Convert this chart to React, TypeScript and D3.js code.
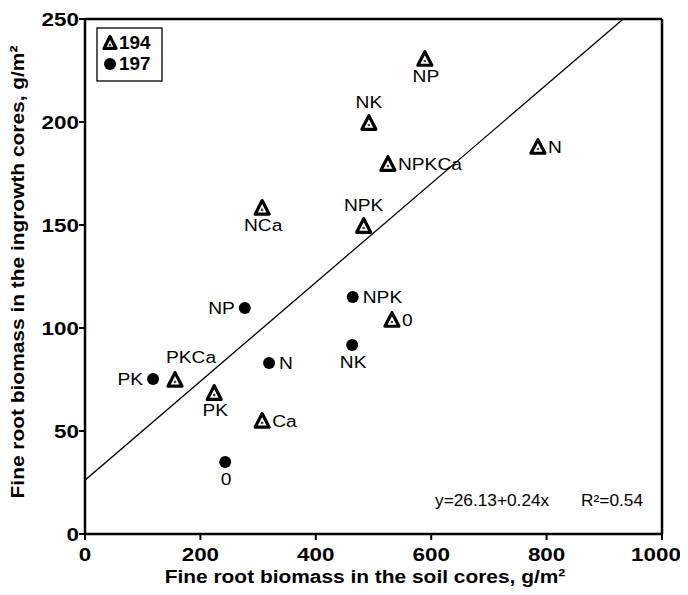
import React from "react";
import * as d3 from "d3";

// Treatment labels and fine root biomass (g/m²): soil cores (x) vs ingrowth cores (y)
const plot194Labels = ["NP", "NK", "NPKCa", "N", "NPK", "NCa", "0", "PKCa", "PK", "Ca"];
const plot194Soil = [589, 492, 525, 785, 483, 307, 532, 156, 224, 307];
const plot194Ingrowth = [230.6, 199.5, 179.6, 187.9, 149.5, 158.3, 103.9, 74.8, 68.4, 54.9];

const plot197Labels = ["NP", "PK", "N", "0", "NPK", "NK"];
const plot197Soil = [277, 118, 319, 243, 464, 463];
const plot197Ingrowth = [109.7, 75.2, 83, 35, 115, 91.7];

// where each treatment label sits relative to its marker
const plot194Place = ["below", "above", "right", "right", "above", "below", "right", "aboveLeft", "below", "right"];
const plot197Place = ["left", "left", "right", "below", "right", "below"];

const xTicks = [0, 200, 400, 600, 800, 1000];
const yTicks = [0, 50, 100, 150, 200, 250];

const intercept = 26.13;
const slope = 0.24;
const r2 = 0.54;

const W = 688;
const H = 595;
const M = { left: 85, right: 662, top: 19, bottom: 534 };
const FONT = "'Liberation Sans', Arial, Helvetica, sans-serif";
const SX = 1.13;

const x = d3.scaleLinear().domain([0, 1000]).range([M.left, M.right]);
const y = d3.scaleLinear().domain([0, 250]).range([M.bottom, M.top]);

type TProps = {
  x: number;
  y: number;
  children: React.ReactNode;
  size?: number;
  bold?: boolean;
  anchor?: "start" | "middle" | "end";
  rotate?: number;
  sx?: number;
};

function T({ x: tx, y: ty, children, size = 16, bold = false, anchor = "start", rotate = 0, sx = SX }: TProps) {
  return (
    <text
      transform={`translate(${tx},${ty}) rotate(${rotate}) scale(${sx},1)`}
      fontFamily={FONT}
      fontSize={size}
      fontWeight={bold ? "bold" : "normal"}
      textAnchor={anchor}
      fill="#000"
    >
      {children}
    </text>
  );
}

function Triangle({ cx, cy, s = 14 }: { cx: number; cy: number; s?: number }) {
  const h = s * 0.9;
  const p = `M${cx},${cy - h / 2 - 1} L${cx + s / 2},${cy + h / 2} L${cx - s / 2},${cy + h / 2} Z`;
  return (
    <g>
      <path d={p} fill="#fff" stroke="#000" strokeWidth={3.2} strokeLinejoin="round" />
      <circle cx={cx} cy={cy + 2} r={1.3} fill="#444" />
    </g>
  );
}

function labelPos(px: number, py: number, place: string) {
  switch (place) {
    case "below":
      return { x: px + 1, y: py + 23, anchor: "middle" as const };
    case "above":
      return { x: px, y: py - 15, anchor: "middle" as const };
    case "left":
      return { x: px - 10, y: py + 6, anchor: "end" as const };
    case "aboveLeft":
      return { x: px + 16, y: py - 17, anchor: "middle" as const };
    default:
      return { x: px + 10, y: py + 6, anchor: "start" as const };
  }
}

export default function App() {
  const line = d3
    .line<number>()
    .x((v) => x(v))
    .y((v) => y(intercept + slope * v));
  const lineXs = [0, 1000];

  return (
    <svg width={W} height={H} style={{ display: "block", background: "#fff", margin: "-8px" }}>
      <defs>
        <clipPath id="plotClip">
          <rect x={M.left} y={M.top} width={M.right - M.left} height={M.bottom - M.top} />
        </clipPath>
      </defs>

      {/* frame */}
      <line x1={M.left} y1={M.top} x2={M.right} y2={M.top} stroke="#000" strokeWidth={2.5} />
      <line x1={M.right} y1={M.top} x2={M.right} y2={M.bottom} stroke="#000" strokeWidth={2.5} />
      <line x1={M.left} y1={M.top - 1} x2={M.left} y2={M.bottom + 1} stroke="#000" strokeWidth={2.5} />
      <line x1={M.left - 1} y1={M.bottom} x2={M.right + 1} y2={M.bottom} stroke="#000" strokeWidth={2.5} />

      {/* x ticks */}
      {xTicks.map((t) => {
        // keep the last label inside the page
        const lx = Math.min(x(t), W - 32);
        return (
          <g key={`xt${t}`}>
            <line x1={x(t)} y1={M.bottom} x2={x(t)} y2={M.bottom + 6} stroke="#000" strokeWidth={2} />
            <T x={lx} y={M.bottom + 27} size={19} bold anchor="middle" sx={1.18}>
              {t}
            </T>
          </g>
        );
      })}

      {/* y ticks */}
      {yTicks.map((t) => (
        <g key={`yt${t}`}>
          <line x1={M.left - 6} y1={y(t)} x2={M.left} y2={y(t)} stroke="#000" strokeWidth={2} />
          <T x={M.left - 6} y={y(t) + 7} size={19} bold anchor="end" sx={1.18}>
            {t}
          </T>
        </g>
      ))}

      {/* axis titles */}
      <T x={365} y={583} size={19} bold anchor="middle" sx={1.1}>
        Fine root biomass in the soil cores, g/m²
      </T>
      <T x={24} y={272} size={19} bold anchor="middle" rotate={-90} sx={1.1}>
        Fine root biomass in the ingrowth cores, g/m²
      </T>

      {/* regression line */}
      <path d={line(lineXs) || ""} fill="none" stroke="#000" strokeWidth={1.3} clipPath="url(#plotClip)" />

      {/* plot 194 */}
      {plot194Labels.map((lab, i) => {
        const px = x(plot194Soil[i]);
        const py = y(plot194Ingrowth[i]);
        const lp = labelPos(px, py, plot194Place[i]);
        return (
          <g key={`a${i}`}>
            <Triangle cx={px} cy={py} />
            <T x={lp.x} y={lp.y} size={17} anchor={lp.anchor}>
              {lab}
            </T>
          </g>
        );
      })}

      {/* plot 197 */}
      {plot197Labels.map((lab, i) => {
        const px = x(plot197Soil[i]);
        const py = y(plot197Ingrowth[i]);
        const lp = labelPos(px, py, plot197Place[i]);
        return (
          <g key={`b${i}`}>
            <circle cx={px} cy={py} r={6} fill="#000" />
            <T x={lp.x} y={lp.y} size={17} anchor={lp.anchor}>
              {lab}
            </T>
          </g>
        );
      })}

      {/* legend */}
      <rect x={97} y={28} width={65} height={53} fill="#fff" stroke="#000" strokeWidth={1.3} />
      <Triangle cx={110} cy={43} s={12} />
      <T x={119} y={49} size={18} bold sx={1.05}>
        194
      </T>
      <circle cx={110} cy={64} r={6} fill="#000" />
      <T x={119} y={70} size={18} bold sx={1.05}>
        197
      </T>

      {/* equation */}
      <T x={435} y={506} size={16} sx={1.08}>
        {`y=${intercept}+${slope}x`}
      </T>
      <T x={643} y={506} size={16} anchor="end" sx={1.08}>
        {`R²=${r2}`}
      </T>
    </svg>
  );
}
